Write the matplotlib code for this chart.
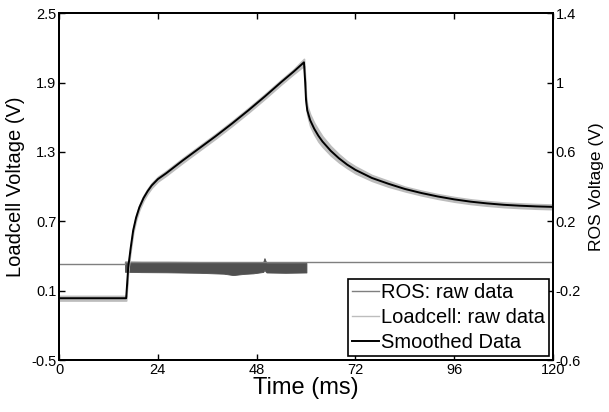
import matplotlib

matplotlib.use("Agg")
import matplotlib.pyplot as plt  # noqa: E402

plt.rcParams["font.family"] = ["Liberation Sans", "DejaVu Sans"]
plt.rcParams["axes.unicode_minus"] = False

# ----------------------------------------------------------------------------
# Data
# ----------------------------------------------------------------------------
# Smoothed loadcell signal (left axis, V)
time_ms = [0, 16.3, 16.8, 17.4, 18.0, 18.7, 19.5, 20.5, 21.5, 22.5, 24.0, 26.0, 28.0,
           30.0, 34.0, 38.0, 42.0, 46.0, 50.0, 54.0, 57.0, 59.5, 59.8, 60.0, 60.3,
           61.0, 62.0, 63.0, 64.0, 66.0, 68.0, 70.0, 72.0, 76.0, 80.0, 84.0, 88.0,
           92.0, 96.0, 100.0, 104.0, 108.0, 112.0, 116.0, 120.0]
loadcell_v = [0.035, 0.035, 0.30, 0.47, 0.62, 0.73, 0.82, 0.90, 0.96, 1.01, 1.065, 1.115, 1.17,
              1.225, 1.33, 1.435, 1.545, 1.66, 1.78, 1.905, 1.995, 2.075, 1.90, 1.75, 1.66,
              1.575, 1.50, 1.44, 1.39, 1.31, 1.245, 1.19, 1.145, 1.075, 1.025, 0.98, 0.945,
              0.915, 0.89, 0.87, 0.855, 0.843, 0.835, 0.829, 0.825]
# half width of the grey raw-data halo around the smoothed trace (V)
raw_spread = [0.02, 0.02, 0.02, 0.02, 0.02, 0.02, 0.02, 0.02, 0.02, 0.02, 0.02, 0.02, 0.02,
              0.02, 0.02, 0.02, 0.02, 0.02, 0.02, 0.02, 0.02, 0.03, 0.03, 0.03, 0.04,
              0.05, 0.05, 0.05, 0.045, 0.04, 0.035, 0.03, 0.03, 0.025, 0.025, 0.02, 0.02,
              0.02, 0.02, 0.02, 0.02, 0.02, 0.02, 0.02, 0.02]

# ROS raw signal (right axis, V): quiet parts
ros_t = [0, 16.0, 16.0, 60.2, 60.2, 120]
ros_v = [-0.048, -0.048, -0.035, -0.035, -0.033, -0.033]

# ROS raw signal while noisy: envelope of the band
band_t = [16.0, 20.0, 26.2, 34.2, 40.0, 42.3, 45.0, 47.2, 49.6, 49.9, 50.2, 50.4, 55.0, 60.1]
band_lo = [-0.091, -0.093, -0.094, -0.097, -0.102, -0.110, -0.103, -0.100, -0.092, -0.080,
           -0.090, -0.095, -0.097, -0.095]
band_hi = [-0.032, -0.033, -0.033, -0.034, -0.035, -0.036, -0.035, -0.036, -0.034, -0.012,
           -0.030, -0.039, -0.039, -0.040]

x_ticks = [0, 24, 48, 72, 96, 120]
left_ticks = [-0.5, 0.1, 0.7, 1.3, 1.9, 2.5]
right_ticks = [-0.6, -0.2, 0.2, 0.6, 1, 1.4]
right_tick_labels = ["-0.6", "-0.2", "0.2", "0.6", "1", "1.4"]

ROS_GREY = "#7f7f7f"
BAND_GREY = "#505050"
RAW_GREY = "#bdbdbd"

# ----------------------------------------------------------------------------
# Plot
# ----------------------------------------------------------------------------
fig = plt.figure(figsize=(6.09, 4.12), dpi=100)
ax = fig.add_axes([0.097, 0.126, 0.811, 0.842])
ax2 = ax.twinx()

# ROS on the right axis
ax2.plot(ros_t, ros_v, color=ROS_GREY, lw=1.0)
ax2.fill_between(band_t, band_lo, band_hi, color=BAND_GREY, lw=0.6, edgecolor=BAND_GREY)
ax2.set_ylim(-0.6, 1.4)
ax2.set_yticks(right_ticks)
ax2.set_yticklabels(right_tick_labels)
ax2.set_ylabel("ROS Voltage (V)", fontsize=12.5, labelpad=6)

# Loadcell on the left axis, drawn above the ROS trace
ax.set_zorder(ax2.get_zorder() + 1)
ax.patch.set_visible(False)
raw_lo = [v - s for v, s in zip(loadcell_v, raw_spread)]
raw_hi = [v + s for v, s in zip(loadcell_v, raw_spread)]
ax.fill_between(time_ms, raw_lo, raw_hi, color=RAW_GREY, lw=1.2, edgecolor=RAW_GREY)
ax.plot(time_ms, loadcell_v, color="black", lw=1.4)
ax.set_xlim(0, 120)
ax.set_ylim(-0.5, 2.5)
ax.set_xticks(x_ticks)
ax.set_yticks(left_ticks)
ax.set_xlabel("Time (ms)", fontsize=17, labelpad=0)
ax.set_ylabel("Loadcell Voltage (V)", fontsize=14.5, labelpad=4)

for a in (ax, ax2):
    a.tick_params(direction="in", length=4, width=1.0, labelsize=10.5, pad=2)
    for s in a.spines.values():
        s.set_linewidth(1.4)
ax.tick_params(top=True)

# Legend: proxies for the three traces
h1, = ax.plot([], [], color=ROS_GREY, lw=1.0)
h2, = ax.plot([], [], color=RAW_GREY, lw=1.0)
h3, = ax.plot([], [], color="black", lw=1.4)
leg = ax.legend([h1, h2, h3], ["ROS: raw data", "Loadcell: raw data", "Smoothed Data"],
                loc="lower right", fontsize=14.5, frameon=True, fancybox=False,
                edgecolor="black", framealpha=1, handlelength=1.35, handletextpad=0.1,
                borderpad=0.2, labelspacing=0.3, borderaxespad=0.2)
leg.get_frame().set_linewidth(1.2)

fig.savefig("out.png", dpi=100)
plt.close(fig)
